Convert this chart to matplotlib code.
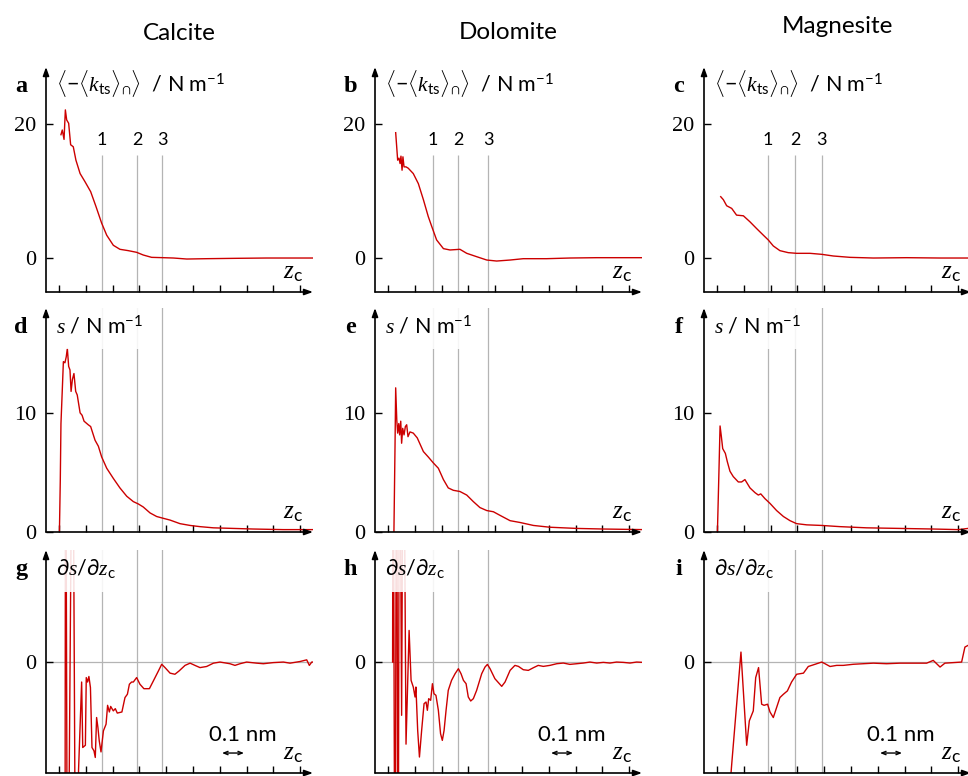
import matplotlib
matplotlib.use("Agg")
import matplotlib.pyplot as plt

# z_c in nm, curves per mineral: top = <-<k_ts>>, middle = s, bottom = ds/dz_c
calcite_k_z = [0.068, 0.074, 0.082, 0.088, 0.094, 0.103, 0.112, 0.124, 0.136, 0.155, 0.177, 0.203, 0.227, 0.253,
               0.276, 0.306, 0.336, 0.374, 0.412, 0.442, 0.480, 0.533, 0.579, 0.640, 0.730, 0.852, 1.003, 1.215]
calcite_k = [18.4, 19.1, 17.7, 22.1, 20.6, 20.1, 16.9, 16.6, 14.6, 12.6, 11.4, 9.9, 7.7, 5.2,
             3.4, 1.9, 1.3, 1.1, 0.85, 0.45, 0.1, 0.05, 0, -0.15, -0.1, -0.05, 0, 0]

dolomite_k_z = [0.094, 0.103, 0.109, 0.114, 0.118, 0.123, 0.127, 0.132, 0.141, 0.151, 0.174, 0.197, 0.220, 0.242,
                0.258, 0.280, 0.311, 0.341, 0.386, 0.417, 0.462, 0.508, 0.553, 0.614, 0.674, 0.780, 0.886, 1.008, 1.220]
dolomite_k = [18.7, 14.6, 14.9, 14.1, 15.2, 13.1, 15.1, 13.6, 13.6, 13.4, 12.6, 11.1, 8.7, 6.2,
              4.7, 2.7, 1.4, 1.2, 1.3, 0.7, 0.2, -0.3, -0.45, -0.3, -0.1, -0.1, 0, 0.05, 0.05]

magnesite_k_z = [0.076, 0.088, 0.103, 0.126, 0.148, 0.179, 0.209, 0.239, 0.270, 0.292, 0.315, 0.345, 0.383, 0.421,
                 0.482, 0.535, 0.588, 0.664, 0.770, 0.921, 1.073, 1.200]
magnesite_k = [9.15, 8.7, 7.8, 7.4, 6.4, 6.3, 5.4, 4.4, 3.4, 2.7, 1.8, 1.1, 0.8, 0.7,
               0.7, 0.55, 0.3, 0.1, 0, 0.05, 0, 0]

calcite_s_z = [0.061, 0.065, 0.068, 0.074, 0.079, 0.086, 0.092, 0.097, 0.103, 0.109, 0.114, 0.120, 0.127, 0.135,
               0.142, 0.155, 0.164, 0.173, 0.192, 0.203, 0.223, 0.238, 0.253, 0.276, 0.306, 0.336, 0.367, 0.397,
               0.420, 0.442, 0.473, 0.503, 0.533, 0.564, 0.609, 0.655, 0.700, 0.761, 0.852, 0.942, 1.079, 1.215]
calcite_s = [0, 4.4, 9.1, 11.9, 14.3, 14.2, 14.7, 15.4, 13.9, 13.6, 11.8, 12.8, 13.3, 11.8,
             11.5, 10.0, 9.8, 9.3, 9.0, 8.85, 7.7, 7.2, 6.3, 5.35, 4.5, 3.7, 3.0, 2.55,
             2.35, 2.1, 1.6, 1.3, 1.15, 1.0, 0.7, 0.55, 0.45, 0.35, 0.3, 0.25, 0.2, 0.2]

dolomite_s_z = [0.086, 0.091, 0.094, 0.099, 0.103, 0.108, 0.112, 0.117, 0.121, 0.126, 0.132, 0.138, 0.144, 0.150,
                0.159, 0.174, 0.192, 0.220, 0.242, 0.265, 0.288, 0.311, 0.333, 0.356, 0.386, 0.417, 0.447, 0.477,
                0.508, 0.538, 0.568, 0.614, 0.659, 0.720, 0.795, 0.917, 1.038, 1.220]
dolomite_s = [0, 7.2, 12.1, 9.4, 8.3, 9.1, 8.15, 9.3, 7.45, 8.7, 8.15, 8.85, 9.0, 8.0,
              8.4, 8.3, 7.9, 6.75, 6.3, 5.8, 5.35, 4.4, 3.7, 3.5, 3.4, 3.1, 2.55, 2.05,
              1.8, 1.7, 1.4, 0.95, 0.8, 0.55, 0.4, 0.3, 0.25, 0.2]

magnesite_s_z = [0.061, 0.067, 0.073, 0.079, 0.085, 0.097, 0.106, 0.118, 0.133, 0.156, 0.171, 0.186, 0.209, 0.232,
                 0.247, 0.258, 0.277, 0.300, 0.330, 0.361, 0.391, 0.421, 0.467, 0.535, 0.618, 0.739, 0.891, 1.042,
                 1.156, 1.200]
magnesite_s = [0, 4.4, 8.9, 8.0, 7.0, 6.6, 5.9, 5.1, 4.65, 4.2, 4.2, 4.4, 3.7, 3.3,
               3.1, 3.2, 2.8, 2.4, 1.8, 1.3, 0.95, 0.7, 0.6, 0.55, 0.45, 0.35, 0.3, 0.25,
               0.2, 0.3]

calcite_ds_z = [0.086, 0.089, 0.098, 0.121, 0.136, 0.148, 0.162, 0.167, 0.179, 0.183, 0.189, 0.195, 0.202, 0.209,
                0.218, 0.224, 0.230, 0.236, 0.242, 0.250, 0.261, 0.273, 0.280, 0.288, 0.294, 0.306, 0.315, 0.324,
                0.345, 0.359, 0.370, 0.379, 0.389, 0.397, 0.412, 0.427, 0.445, 0.470, 0.488, 0.511, 0.526, 0.541,
                0.564, 0.586, 0.605, 0.632, 0.655, 0.677, 0.700, 0.730, 0.761, 0.791, 0.836, 0.859, 0.882, 0.912,
                0.958, 0.988, 1.033, 1.079, 1.109, 1.155, 1.185, 1.197, 1.208, 1.223]
calcite_ds = [-3, 3, -3, 3, -3, -0.97, -0.18, -0.77, -0.75, -0.14, -0.18, -0.13, -0.23, -0.77,
              -0.80, -0.86, -0.50, -0.59, -0.71, -0.81, -0.62, -0.56, -0.39, -0.45, -0.40, -0.44, -0.42, -0.46,
              -0.45, -0.32, -0.29, -0.20, -0.18, -0.18, -0.14, -0.20, -0.24, -0.24, -0.17, -0.08, -0.02, -0.05,
              -0.10, -0.11, -0.08, -0.03, -0.01, -0.03, -0.05, -0.04, -0.01, 0, -0.015, -0.03, -0.015, 0,
              -0.01, -0.015, -0.005, 0, -0.01, 0.005, 0.02, -0.03, 0, 0]

dolomite_ds_z = [0.080, 0.082, 0.091, 0.098, 0.105, 0.111, 0.121, 0.129, 0.141, 0.155, 0.164, 0.174, 0.182, 0.186,
                 0.194, 0.202, 0.212, 0.223, 0.232, 0.238, 0.244, 0.253, 0.261, 0.268, 0.277, 0.288, 0.298, 0.306,
                 0.314, 0.323, 0.333, 0.348, 0.364, 0.379, 0.391, 0.402, 0.414, 0.424, 0.435, 0.447, 0.462, 0.485,
                 0.500, 0.511, 0.523, 0.545, 0.576, 0.591, 0.614, 0.636, 0.652, 0.674, 0.697, 0.720, 0.742, 0.765,
                 0.795, 0.826, 0.856, 0.886, 0.917, 0.947, 0.977, 1.008, 1.038, 1.068, 1.098, 1.129, 1.159, 1.189,
                 1.220]
dolomite_ds = [0, 3, -3, 3, -3, 3, -0.48, 3, -0.74, 0.285, -0.165, -0.225, -0.315, -0.225,
               -0.616, -0.856, -0.616, -0.375, -0.36, -0.435, -0.33, -0.345, -0.195, -0.285, -0.30, -0.435, -0.646,
               -0.706, -0.616, -0.435, -0.255, -0.165, -0.105, -0.06, -0.105, -0.165, -0.195, -0.315, -0.351, -0.33,
               -0.255, -0.105, -0.045, -0.021, -0.06, -0.15, -0.219, -0.18, -0.075, -0.03, -0.039, -0.069, -0.075,
               -0.051, -0.03, -0.039, -0.03, -0.015, -0.009, -0.021, -0.015, -0.009, 0, -0.009, -0.003, -0.009, 0,
               -0.003, -0.009, 0, -0.003]

magnesite_ds_z = [0.115, 0.126, 0.168, 0.194, 0.206, 0.224, 0.235, 0.248, 0.262, 0.273, 0.289, 0.300, 0.315, 0.330,
                  0.345, 0.361, 0.379, 0.398, 0.421, 0.452, 0.474, 0.505, 0.535, 0.550, 0.573, 0.603, 0.633, 0.679,
                  0.724, 0.770, 0.830, 0.891, 0.952, 1.012, 1.042, 1.073, 1.095, 1.133, 1.171, 1.186, 1.200]
magnesite_ds = [-1.2, -0.92, 0.09, -0.75, -0.53, -0.44, -0.14, -0.05, -0.38, -0.39, -0.38, -0.45, -0.50, -0.41,
                -0.32, -0.29, -0.26, -0.18, -0.11, -0.10, -0.04, -0.02, 0, -0.015, -0.04, -0.03, -0.03, -0.02,
                -0.015, -0.01, -0.015, -0.01, -0.01, -0.01, 0.015, -0.045, -0.01, -0.005, 0, 0.135, 0.15]

# positions of hydration layers 1, 2, 3
calcite_layers = [0.255, 0.414, 0.527]
dolomite_layers = [0.264, 0.377, 0.514]
magnesite_layers = [0.291, 0.414, 0.536]

minerals = ["Calcite", "Dolomite", "Magnesite"]
panel_letters = ["a", "b", "c", "d", "e", "f", "g", "h", "i"]
zc_ticks = [0.059, 0.181, 0.303, 0.424, 0.546, 0.668, 0.790, 0.912, 1.033, 1.155]

RED = "#cc0000"
GRAY = "#b4b4b4"
W, H = 968, 776
SANS = "Lato"


def fx(px):
    return px / W


def fy(py):
    return 1 - py / H


def draw_axes(ax):
    """Hide the frame and draw arrowed axes along the left and bottom."""
    for sp in ax.spines.values():
        sp.set_visible(False)
    arrow = dict(arrowstyle="-|>,head_length=0.5,head_width=0.18", lw=1.2, color="black",
                 shrinkA=0, shrinkB=0)
    ax.annotate("", xy=(1.0, 0), xytext=(0, 0), xycoords="axes fraction", arrowprops=arrow,
                annotation_clip=False, zorder=6)
    ax.annotate("", xy=(0, 1.0), xytext=(0, 0), xycoords="axes fraction", arrowprops=arrow,
                annotation_clip=False, zorder=6)
    ax.set_xticks(zc_ticks)
    ax.set_xticklabels([])
    ax.tick_params(direction="in", length=5, width=1, labelsize=16, pad=7)
    ax.set_xlim(0, 267 / 220)


def main():
    plt.rcParams["font.family"] = "Liberation Serif"
    plt.rcParams["mathtext.fontset"] = "custom"
    plt.rcParams["mathtext.rm"] = SANS
    plt.rcParams["mathtext.it"] = "Liberation Serif:italic"
    plt.rcParams["mathtext.bf"] = "Liberation Serif:bold"

    fig = plt.figure(figsize=(W / 100, H / 100), dpi=100)

    k_data = [(calcite_k_z, calcite_k), (dolomite_k_z, dolomite_k), (magnesite_k_z, magnesite_k)]
    s_data = [(calcite_s_z, calcite_s), (dolomite_s_z, dolomite_s), (magnesite_s_z, magnesite_s)]
    ds_data = [(calcite_ds_z, calcite_ds), (dolomite_ds_z, dolomite_ds), (magnesite_ds_z, magnesite_ds)]
    layers = [calcite_layers, dolomite_layers, magnesite_layers]

    lefts = [46, 375, 704]
    rows = [(67, 292), (308, 532), (550, 773)]
    title_y = [39.5, 39, 33]
    ylabels = [r"$\langle$$-$$\langle k_{\mathrm{ts}}\rangle_{\cap}\rangle$  / N m$^{-1}$",
               r"$s$ / N m$^{-1}$",
               r"$\partial s/\partial z_{\mathrm{c}}$"]
    ylims = [(-5.07, 28.5), (0, 18.8), (-1.0, 1.01)]
    yticks = [[0, 20], [0, 10], [0]]
    label_pad = [0.25, 0.55, 0.55]

    for c in range(3):
        left = lefts[c]
        fig.text(fx(left + 133), fy(title_y[c]), minerals[c], ha="center", va="baseline",
                 fontsize=17.5, family=SANS)
        for r in range(3):
            top, bottom = rows[r]
            ax = fig.add_axes([fx(left), fy(bottom), 267 / W, (bottom - top) / H])
            draw_axes(ax)
            ax.set_ylim(*ylims[r])
            ax.set_yticks(yticks[r])

            if r == 0:
                z, v = k_data[c]
                ax.vlines(layers[c], ylims[r][0], 15.4, color=GRAY, lw=0.9, zorder=1)
                for i, zl in enumerate(layers[c]):
                    ax.text(zl, 17.6, str(i + 1), ha="center", va="center", fontsize=13, family=SANS)
            elif r == 1:
                z, v = s_data[c]
                for zl in layers[c]:
                    ax.axvline(zl, color=GRAY, lw=0.9, zorder=1)
            else:
                z, v = ds_data[c]
                for zl in layers[c]:
                    ax.axvline(zl, color=GRAY, lw=0.9, zorder=1)
                ax.axhline(0, color=GRAY, lw=0.9, zorder=1)
                # 0.1 nm scale bar
                ax.annotate("", xy=(0.9, -0.82), xytext=(0.8, -0.82),
                            arrowprops=dict(arrowstyle="<->,head_length=0.3,head_width=0.12", lw=1,
                                            color="black", shrinkA=0, shrinkB=0))
                ax.text(0.893, -0.66, "0.1 nm", ha="center", va="center", fontsize=16, family=SANS)

            ax.plot(z, v, color=RED, lw=1.0, zorder=2)
            ax.text(0.925, 0.085, r"$z_{\mathrm{c}}$", transform=ax.transAxes, ha="center",
                    va="center", fontsize=18)

            base = [91.5, 333, 575][r]
            fig.text(fx(left - 25), fy(base), panel_letters[3 * r + c], ha="center", va="baseline",
                     fontsize=17.5, fontweight="bold")
            # quantity label sits on a white box over the layer lines, under the axis arrows
            ax.text(fx(left + 10), fy(base), ylabels[r], transform=fig.transFigure, ha="left",
                    va="baseline", fontsize=15.5, family=SANS, zorder=4,
                    bbox=dict(facecolor="white", edgecolor="none", alpha=0.88,
                              boxstyle="square,pad=%.2f" % label_pad[r]))

    fig.savefig("out.png", dpi=100)


if __name__ == "__main__":
    main()
